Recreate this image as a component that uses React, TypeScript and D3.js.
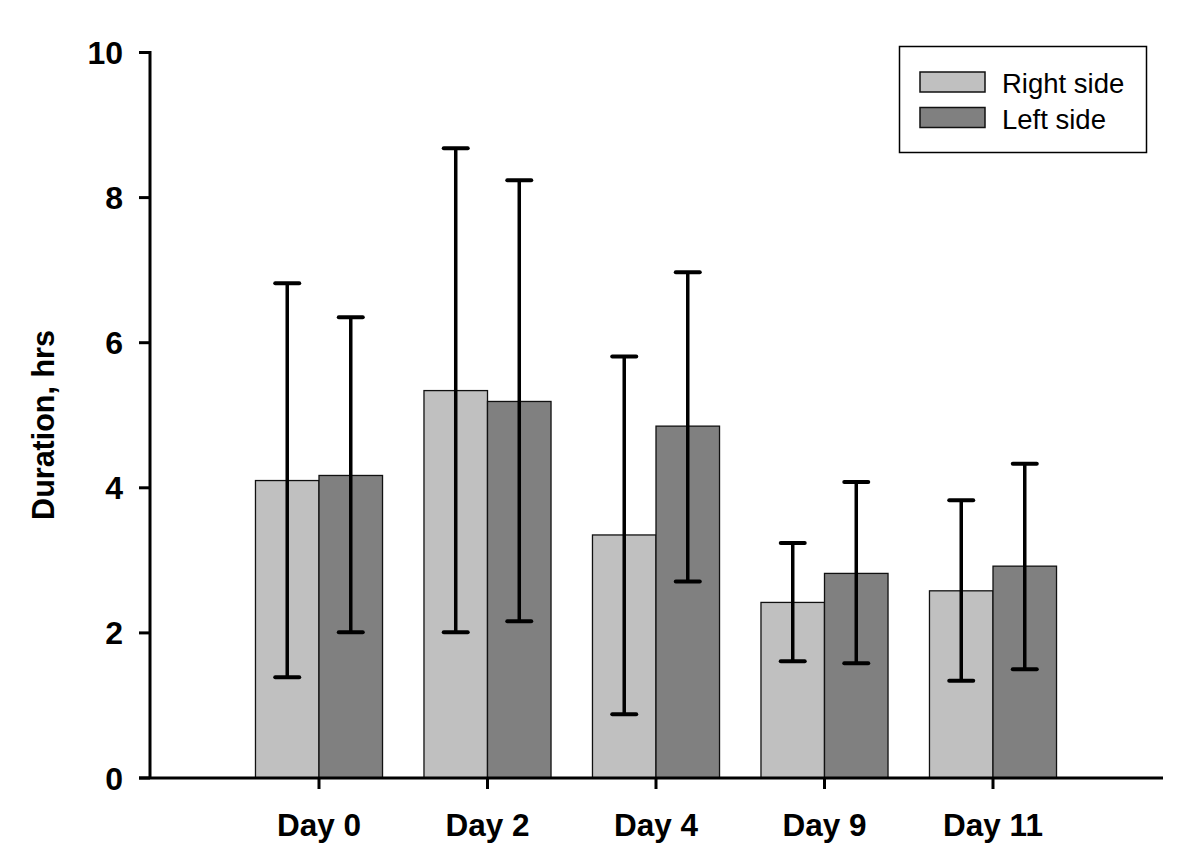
import React from "react";
import * as d3 from "d3";

const days = ["Day 0", "Day 2", "Day 4", "Day 9", "Day 11"];
const seriesNames = ["Right side", "Left side"];
const rightMean = [4.1, 5.34, 3.35, 2.42, 2.58];
const rightUpper = [6.82, 8.68, 5.81, 3.24, 3.83];
const rightLower = [1.39, 2.01, 0.88, 1.61, 1.34];
const leftMean = [4.17, 5.19, 4.85, 2.82, 2.92];
const leftUpper = [6.35, 8.24, 6.97, 4.08, 4.33];
const leftLower = [2.01, 2.16, 2.71, 1.58, 1.5];
const yTicks = [0, 2, 4, 6, 8, 10];

const W = 1200;
const H = 856;
const FONT = "'Liberation Sans', Arial, Helvetica, sans-serif";
const colors = ["#c0c0c0", "#808080"];

export default function App() {
  const y = d3.scaleLinear().domain([0, 10]).range([778, 52.5]);
  const x = d3
    .scaleBand<string>()
    .domain(days)
    .range([234.75, 1077.25])
    .paddingInner(0.246)
    .paddingOuter(0.123);
  const xs = d3.scaleBand<string>().domain(seriesNames).range([0, x.bandwidth()]);

  const series = [
    { name: seriesNames[0], mean: rightMean, up: rightUpper, lo: rightLower },
    { name: seriesNames[1], mean: leftMean, up: leftUpper, lo: leftLower },
  ];

  const capHalf = 12;
  const axisLeft = 150;

  return (
    <svg
      width={W}
      height={H}
      style={{ position: "absolute", left: 0, top: 0, background: "#fff" }}
      fontFamily={FONT}
    >
      <rect x={0} y={0} width={W} height={H} fill="#fff" />
      {/* bars */}
      {series.map((s, si) =>
        days.map((d, i) => {
          const bx = (x(d) as number) + (xs(s.name) as number);
          return (
            <rect
              key={`b-${si}-${i}`}
              x={bx}
              y={y(s.mean[i])}
              width={xs.bandwidth()}
              height={y(0) - y(s.mean[i])}
              fill={colors[si]}
              stroke="#111"
              strokeWidth={1.3}
            />
          );
        })
      )}
      {/* error bars */}
      {series.map((s, si) =>
        days.map((d, i) => {
          const cx = (x(d) as number) + (xs(s.name) as number) + xs.bandwidth() / 2;
          return (
            <g key={`e-${si}-${i}`} stroke="#000">
              <line x1={cx} x2={cx} y1={y(s.up[i])} y2={y(s.lo[i])} strokeWidth={3.5} />
              <line x1={cx - capHalf} x2={cx + capHalf} y1={y(s.up[i])} y2={y(s.up[i])} strokeWidth={4} strokeLinecap="round" />
              <line x1={cx - capHalf} x2={cx + capHalf} y1={y(s.lo[i])} y2={y(s.lo[i])} strokeWidth={4} strokeLinecap="round" />
            </g>
          );
        })
      )}
      {/* y axis */}
      <line x1={axisLeft} x2={axisLeft} y1={y(10) - 1.5} y2={y(0)} stroke="#000" strokeWidth={3} />
      {yTicks.map((t) => (
        <g key={`yt-${t}`}>
          <line x1={139} x2={axisLeft} y1={y(t)} y2={y(t)} stroke="#000" strokeWidth={3} />
          <text
            x={123}
            y={y(t)}
            dy="0.36em"
            textAnchor="end"
            fontSize={32}
            fontWeight="bold"
            fill="#000"
          >
            {t}
          </text>
        </g>
      ))}
      {/* x axis */}
      <line x1={139} x2={1163} y1={y(0)} y2={y(0)} stroke="#000" strokeWidth={3} />
      {days.map((d) => {
        const cx = (x(d) as number) + x.bandwidth() / 2;
        return (
          <g key={`xt-${d}`}>
            <line x1={cx} x2={cx} y1={y(0)} y2={y(0) + 11} stroke="#000" strokeWidth={3} />
            <text x={cx} y={836} textAnchor="middle" fontSize={31.5} fontWeight="bold" fill="#000">
              {d}
            </text>
          </g>
        );
      })}
      {/* y title */}
      <text
        transform="rotate(-90)"
        x={-425}
        y={54}
        textAnchor="middle"
        fontSize={30.5}
        fontWeight="bold"
        fill="#000"
      >
        Duration, hrs
      </text>
      {/* legend */}
      <rect x={899.5} y={46.5} width={247} height={106} fill="#fff" stroke="#000" strokeWidth={1.5} />
      {seriesNames.map((n, i) => (
        <g key={`lg-${n}`}>
          <rect x={920} y={72 + i * 35.5} width={65} height={20} fill={colors[i]} stroke="#111" strokeWidth={1.5} />
          <text x={1002} y={93 + i * 35.5} fontSize={27.5} fill="#000">
            {n}
          </text>
        </g>
      ))}
    </svg>
  );
}
